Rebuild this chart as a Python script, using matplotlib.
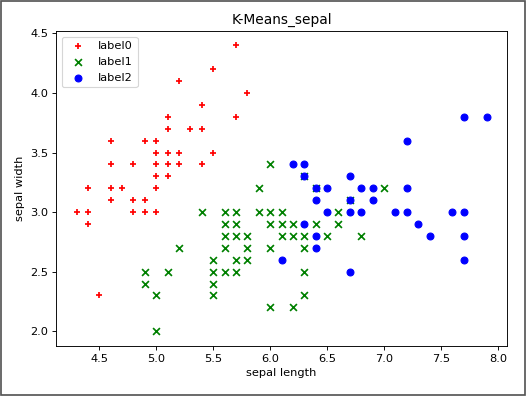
import matplotlib
matplotlib.use("Agg")
import matplotlib.pyplot as plt
import matplotlib.patches as patches

# cluster 0 (red +)
x0 = [4.3, 4.4, 4.4, 4.4, 4.5, 4.6, 4.6, 4.6, 4.6, 4.7, 4.8, 4.8, 4.8, 4.9, 4.9, 4.9,
      5.0, 5.0, 5.0, 5.0, 5.0, 5.0, 5.1, 5.1, 5.1, 5.1, 5.1, 5.2, 5.2, 5.2, 5.3,
      5.4, 5.4, 5.4, 5.5, 5.5, 5.7, 5.7, 5.8]
y0 = [3.0, 3.0, 2.9, 3.2, 2.3, 3.6, 3.4, 3.2, 3.1, 3.2, 3.4, 3.1, 3.0, 3.6, 3.1, 3.0,
      3.6, 3.5, 3.4, 3.3, 3.2, 3.0, 3.8, 3.7, 3.5, 3.4, 3.3, 4.1, 3.5, 3.4, 3.7,
      3.9, 3.7, 3.4, 4.2, 3.5, 4.4, 3.8, 4.0]

# cluster 1 (green x)
x1 = [4.9, 4.9, 5.0, 5.0, 5.1, 5.2, 5.4, 5.5, 5.5, 5.5, 5.5, 5.6, 5.6, 5.6, 5.6, 5.6,
      5.7, 5.7, 5.7, 5.7, 5.7, 5.8, 5.8, 5.8, 5.9, 5.9, 6.0, 6.0, 6.0, 6.0, 6.0,
      6.1, 6.1, 6.1, 6.2, 6.2, 6.2, 6.3, 6.3, 6.3, 6.3, 6.3, 6.4, 6.4, 6.5, 6.6, 6.6,
      6.7, 6.8, 7.0]
y1 = [2.5, 2.4, 2.3, 2.0, 2.5, 2.7, 3.0, 2.6, 2.5, 2.4, 2.3, 3.0, 2.9, 2.8, 2.7, 2.5,
      3.0, 2.9, 2.8, 2.6, 2.5, 2.8, 2.7, 2.6, 3.2, 3.0, 3.4, 3.0, 2.9, 2.7, 2.2,
      3.0, 2.9, 2.8, 2.9, 2.8, 2.2, 3.3, 2.8, 2.7, 2.5, 2.3, 3.2, 2.9, 2.8, 3.0, 2.9,
      3.1, 2.8, 3.2]

# cluster 2 (blue o)
x2 = [6.1, 6.2, 6.3, 6.3, 6.3, 6.4, 6.4, 6.4, 6.4, 6.5, 6.5, 6.7, 6.7, 6.7, 6.7,
      6.8, 6.8, 6.9, 6.9, 7.1, 7.2, 7.2, 7.2, 7.3, 7.4, 7.6, 7.7, 7.7, 7.7, 7.7, 7.9]
y2 = [2.6, 3.4, 3.4, 3.3, 2.9, 3.2, 3.1, 2.8, 2.7, 3.2, 3.0, 3.3, 3.1, 3.0, 2.5,
      3.2, 3.0, 3.2, 3.1, 3.0, 3.6, 3.2, 3.0, 2.9, 2.8, 3.0, 3.8, 3.0, 2.8, 2.6, 3.8]

dpi = 82.2
fig = plt.figure(figsize=(526 / dpi, 396 / dpi), dpi=dpi)
ax = fig.add_axes([0.1065, 0.1275, 0.8575, 0.794])

ax.scatter(x0, y0, c="red", marker="+", label="label0")
ax.scatter(x1, y1, c="green", marker="x", label="label1")
ax.scatter(x2, y2, c="blue", marker="o", label="label2")

ax.set_xlabel("sepal length")
ax.set_ylabel("sepal width")
ax.set_title("K-Means_sepal")
ax.legend(loc=2)

# window frame around the screenshot
fig.patches.append(patches.Rectangle((0.002, 0.003), 0.996, 0.994, transform=fig.transFigure,
                                     fill=False, edgecolor="#555555", linewidth=1.5))

plt.savefig("out.png", dpi=dpi)
